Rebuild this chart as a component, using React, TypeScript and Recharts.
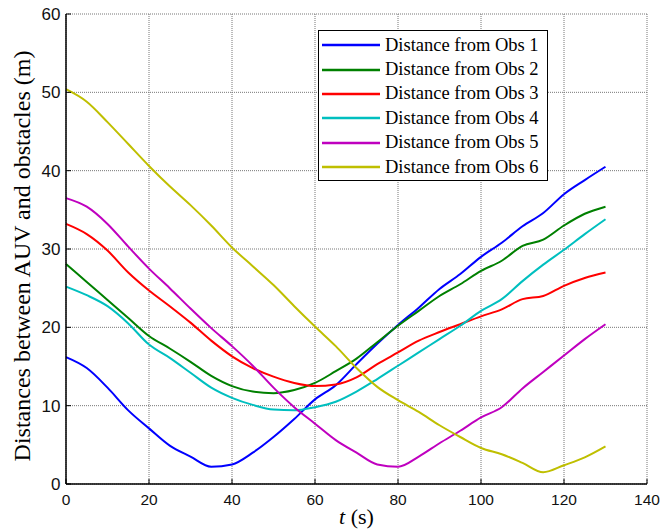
import { LineChart, Line, XAxis, YAxis, CartesianGrid, Legend } from 'recharts';

// time (s)
const time = [0, 5, 10, 15, 20, 25, 30, 35, 40, 45, 50, 55, 60, 65, 70, 75, 80, 85, 90, 95, 100, 105, 110, 115, 120, 125, 130];

// distances to each obstacle (m)
const obs1 = [16.2, 14.8, 12.3, 9.4, 7.1, 4.9, 3.5, 2.2, 2.5, 4.0, 6.0, 8.3, 10.8, 12.6, 15.3, 17.9, 20.3, 22.5, 24.9, 26.8, 29.0, 30.8, 32.9, 34.6, 37.0, 38.8, 40.5];
const obs2 = [28.1, 25.8, 23.5, 21.2, 18.9, 17.3, 15.6, 13.8, 12.5, 11.8, 11.6, 12.0, 12.9, 14.4, 16.0, 18.1, 20.2, 22.1, 24.0, 25.5, 27.2, 28.5, 30.4, 31.2, 33.0, 34.5, 35.4];
const obs3 = [33.2, 31.9, 29.8, 27.0, 24.7, 22.7, 20.6, 18.3, 16.3, 14.8, 13.7, 12.9, 12.5, 12.7, 13.6, 15.3, 16.8, 18.3, 19.4, 20.4, 21.4, 22.3, 23.6, 24.0, 25.3, 26.3, 27.0];
const obs4 = [25.2, 24.1, 22.7, 20.5, 17.8, 16.1, 14.2, 12.3, 11.0, 10.1, 9.5, 9.4, 9.8, 10.5, 11.8, 13.4, 15.1, 16.8, 18.5, 20.2, 22.1, 23.6, 25.9, 28.0, 29.9, 31.9, 33.8];
const obs5 = [36.5, 35.4, 33.2, 30.3, 27.5, 25.0, 22.4, 19.9, 17.6, 15.1, 12.3, 9.8, 7.7, 5.6, 4.0, 2.5, 2.2, 3.5, 5.2, 6.8, 8.5, 9.8, 12.2, 14.3, 16.4, 18.5, 20.4];
const obs6 = [50.4, 48.8, 46.2, 43.4, 40.6, 38.0, 35.6, 33.0, 30.2, 27.8, 25.4, 22.7, 20.1, 17.6, 14.8, 12.4, 10.7, 9.2, 7.5, 6.0, 4.6, 3.8, 2.7, 1.5, 2.4, 3.4, 4.8];

const seriesNames = ['Distance from Obs 1', 'Distance from Obs 2', 'Distance from Obs 3', 'Distance from Obs 4', 'Distance from Obs 5', 'Distance from Obs 6'];
const seriesColors = ['#0000ff', '#008000', '#ff0000', '#00bfbf', '#bf00bf', '#bfbf00'];

const xTicks = [0, 20, 40, 60, 80, 100, 120, 140];
const yTicks = [0, 10, 20, 30, 40, 50, 60];

const allSeries = [obs1, obs2, obs3, obs4, obs5, obs6];
const data = time.map((t, i) => {
  const row: any = { t };
  allSeries.forEach((s, k) => { row['obs' + (k + 1)] = s[i]; });
  return row;
});

const serif = '"Liberation Serif", "Times New Roman", serif';
const sans = '"Liberation Sans", Arial, sans-serif';

function LegendBox({ payload }: any) {
  if (!payload) return null;
  return (
    <div style={{ border: '1.3px solid #000', background: '#fff', width: 228, padding: '2px 0 1px 0', fontFamily: serif, fontSize: 18.5, color: '#000' }}>
      {payload.map((p: any) => (
        <div key={p.value} style={{ display: 'flex', alignItems: 'center', height: 24.4, whiteSpace: 'nowrap' }}>
          <svg width={58} height={4} style={{ marginLeft: 3, marginRight: 5 }}>
            <line x1={0} y1={2} x2={58} y2={2} stroke={p.color} strokeWidth={2.5} />
          </svg>
          <span>{p.value}</span>
        </div>
      ))}
    </div>
  );
}

function YLabel({ viewBox }: any) {
  const x = viewBox.x + 24;
  const y = viewBox.y + viewBox.height / 2 + 7;
  return (
    <text x={x} y={y} transform={`rotate(-90, ${x}, ${y})`} textAnchor="middle" fontFamily={serif} fontSize={24} fill="#000">
      Distances between AUV and obstacles (m)
    </text>
  );
}

function XLabel({ viewBox }: any) {
  return (
    <text x={viewBox.x + viewBox.width / 2} y={viewBox.y + 40} textAnchor="middle" fontFamily={serif} fontSize={22} fill="#000">
      <tspan fontStyle="italic">t</tspan> (s)
    </text>
  );
}

export default function App() {
  return (
    <div style={{ position: 'absolute', left: 0, top: 0, background: '#fff' }}>
      <LineChart width={660} height={531} data={data} margin={{ top: 14, right: 13, bottom: 17, left: 6 }}>
        <CartesianGrid stroke="#777" strokeDasharray="1 1" />
        <XAxis
          type="number" dataKey="t" domain={[0, 140]} ticks={xTicks} height={30}
          tickSize={-5} tickMargin={15}
          tick={{ fontSize: 15.5, fill: '#111', fontFamily: sans }}
          axisLine={{ stroke: '#000', strokeWidth: 1.5 }} tickLine={{ stroke: '#000' }}
          label={{ content: XLabel }}
        />
        <XAxis
          xAxisId="top" orientation="top" type="number" dataKey="t" domain={[0, 140]} ticks={xTicks} height={0}
          tick={false} tickSize={-5}
          axisLine={{ stroke: '#000', strokeWidth: 1 }} tickLine={{ stroke: '#000' }}
        />
        <YAxis
          type="number" domain={[0, 60]} ticks={yTicks} width={60}
          tickSize={-5} tickMargin={10.5}
          tick={{ fontSize: 17, fill: '#111', fontFamily: sans }}
          axisLine={{ stroke: '#000', strokeWidth: 1.5 }} tickLine={{ stroke: '#000' }}
          label={{ content: YLabel }}
        />
        <YAxis
          yAxisId="right" orientation="right" type="number" domain={[0, 60]} ticks={yTicks} width={0}
          tick={false} tickSize={-5}
          axisLine={{ stroke: '#000', strokeWidth: 1 }} tickLine={{ stroke: '#000' }}
        />
        <Legend
          layout="vertical" align="center" verticalAlign="middle"
          content={<LegendBox />}
          wrapperStyle={{ position: 'absolute', left: 318, top: 30, width: 'auto', height: 'auto' }}
        />
        {seriesNames.map((name, k) => (
          <Line
            key={name} type="monotone" dataKey={'obs' + (k + 1)} name={name}
            stroke={seriesColors[k]} strokeWidth={2} dot={false} isAnimationActive={false}
          />
        ))}
      </LineChart>
    </div>
  );
}
